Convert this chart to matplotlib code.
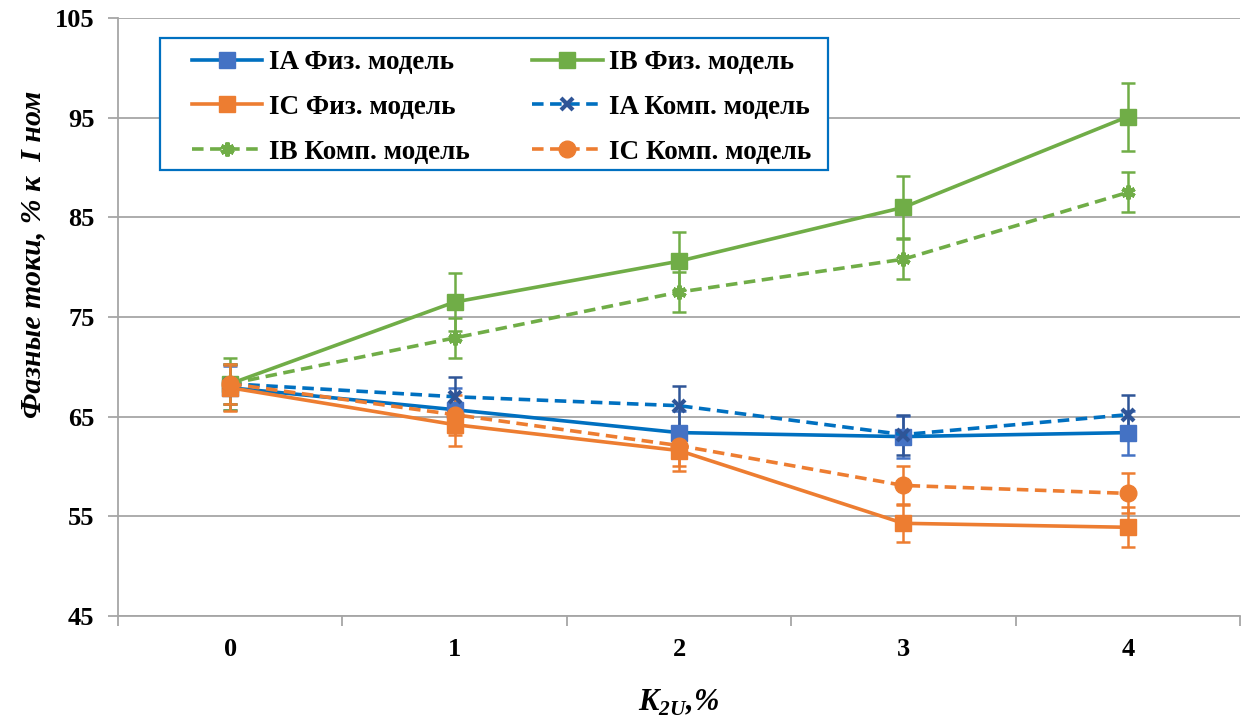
import matplotlib.pyplot as plt
from matplotlib.patches import Rectangle
from matplotlib.ticker import FixedLocator

plt.rcParams["font.family"] = ["Liberation Serif", "DejaVu Serif"]
plt.rcParams["mathtext.fontset"] = "custom"
plt.rcParams["mathtext.bfit"] = "Liberation Serif:italic:bold"
plt.rcParams["mathtext.rm"] = "Liberation Serif:bold"

# K2U steps, %
k2u = [0, 1, 2, 3, 4]

ia_phys = [67.9, 65.7, 63.4, 63.0, 63.4]
ib_phys = [68.3, 76.5, 80.6, 86.0, 95.1]
ic_phys = [67.9, 64.2, 61.6, 54.3, 53.9]
ia_comp = [68.3, 67.0, 66.1, 63.2, 65.2]
ib_comp = [68.3, 72.9, 77.5, 80.8, 87.5]
ic_comp = [68.3, 65.2, 62.1, 58.1, 57.3]

ia_phys_err = [2.2, 2.2, 2.2, 2.1, 2.2]
ib_phys_err = [2.6, 2.9, 2.9, 3.1, 3.4]
ic_phys_err = [2.3, 2.1, 2.1, 1.9, 2.0]
ia_comp_err = [2.0, 2.0, 2.0, 2.0, 2.0]
ib_comp_err = [2.0, 2.0, 2.0, 2.0, 2.0]
ic_comp_err = [2.0, 2.0, 2.0, 2.0, 2.0]

labels = [
    "IA Физ. модель", "IB Физ. модель", "IC Физ. модель",
    "IA Комп. модель", "IB Комп. модель", "IC Комп. модель",
]

BLUE = "#0070C0"
BLUE_MK = "#4472C4"
BLUE_DK = "#2F5597"
GREEN = "#70AD47"
ORANGE = "#ED7D31"
GRID = "#A6A6A6"

series = [
    (ia_phys, ia_phys_err, BLUE, BLUE_MK, "-", "s", 11),
    (ib_phys, ib_phys_err, GREEN, GREEN, "-", "s", 11),
    (ic_phys, ic_phys_err, ORANGE, ORANGE, "-", "s", 11),
    (ia_comp, ia_comp_err, BLUE, BLUE_DK, (0, (3.2, 1.8)), "x", 9),
    (ib_comp, ib_comp_err, GREEN, GREEN, (0, (3.2, 1.8)), (6, 2, 0), 10),
    (ic_comp, ic_comp_err, ORANGE, ORANGE, (0, (3.2, 1.8)), "o", 12),
]

W, H = 1246, 722
fig = plt.figure(figsize=(W / 100, H / 100), dpi=100)
ax = fig.add_axes([118 / W, 1 - 616 / H, (1240 - 118) / W, (616 - 18) / H])

handles = []
for (vals, err, lc, mc, ls, mk, ms), lab in zip(series, labels):
    ax.errorbar(k2u, vals, yerr=err, fmt="none", ecolor=mc, elinewidth=1.8,
                capsize=5, capthick=1.8, zorder=2)
    mew = 3.0 if mk in ("x", (6, 2, 0)) else 1
    h, = ax.plot(k2u, vals, color=lc, linestyle=ls, linewidth=2.6,
                 marker=mk, markersize=ms, markerfacecolor=mc,
                 markeredgecolor=mc, markeredgewidth=mew, label=lab, zorder=3)
    handles.append(h)

ax.set_xlim(-0.5, 4.5)
ax.set_ylim(45, 105)
ax.set_yticks(range(45, 106, 10))
ax.set_xticks(k2u)
ax.xaxis.set_minor_locator(FixedLocator([-0.5, 0.5, 1.5, 2.5, 3.5, 4.5]))

ax.grid(axis="y", color=GRID, linewidth=1.3, zorder=0)
ax.set_axisbelow(True)
for side in ("top", "right"):
    ax.spines[side].set_visible(False)
for side in ("left", "bottom"):
    ax.spines[side].set_color(GRID)
    ax.spines[side].set_linewidth(1.3)

ax.tick_params(axis="y", direction="out", length=7, width=1.3, color=GRID,
               pad=10, labelsize=19)
ax.tick_params(axis="x", which="major", length=0, pad=16, labelsize=19)
ax.tick_params(axis="x", which="minor", direction="out", length=7, width=1.3,
               color=GRID)
for t in ax.get_xticklabels() + ax.get_yticklabels():
    t.set_fontweight("bold")

ax.set_ylabel("Фазные токи, % к  I ном", fontsize=21.5, fontweight="bold",
              fontstyle="italic")
ax.yaxis.set_label_coords(-0.064, 0.604)
ax.set_xlabel(r"$\mathbfit{K}_{\mathbfit{2U}}$,%", fontsize=22,
              fontweight="bold", fontstyle="italic", labelpad=19)

# legend entries run row by row: fill matplotlib's columns accordingly
order = [0, 2, 4, 1, 3, 5]
leg = fig.legend([handles[i] for i in order], [labels[i] for i in order],
                 ncol=2, loc="upper left", bbox_to_anchor=(192 / W, 1 - 50 / H),
                 frameon=False, prop={"weight": "bold", "size": 19.5},
                 handlelength=2.6, columnspacing=2.3, labelspacing=0.73,
                 borderpad=0, handletextpad=0.25, borderaxespad=0)
fig.add_artist(Rectangle((160 / W, 1 - 170 / H), (828 - 160) / W, (170 - 38) / H,
                         transform=fig.transFigure, fill=True, facecolor="white",
                         edgecolor=BLUE, linewidth=1.6, zorder=4))
leg.set_zorder(5)

fig.savefig("out.png", dpi=100)
